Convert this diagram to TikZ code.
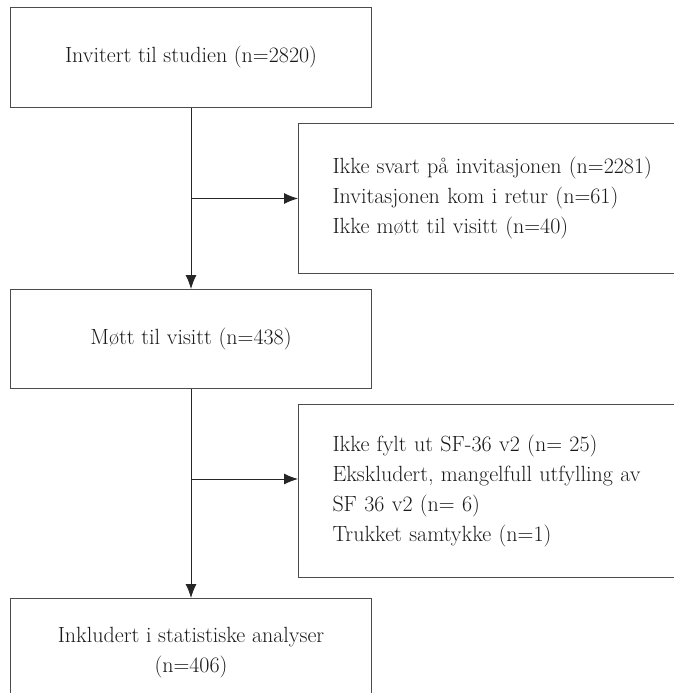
\documentclass[tikz,border=0pt]{standalone}
\usepackage{fontspec}
\usetikzlibrary{arrows.meta}
\begin{document}
\begin{tikzpicture}[x=1pt,y=-1pt,
  box/.style={draw=black!70, line width=1pt, text=black!90, font=\fontsize{22}{30}\selectfont, inner sep=0pt},
  side/.style={box, anchor=north west, text width=345pt, align=left, inner xsep=34pt, inner ysep=0pt},
  main/.style={box, anchor=north west, minimum width=361pt, align=center},
  conn/.style={draw=black!85, line width=0.9pt, -{Latex[length=14pt,width=11pt]}}
]
\clip (0,0) rectangle (674,693);
\useasboundingbox (0,0) rectangle (674,693);
\node[main, minimum height=100pt] (a) at (10,7) {Invitert til studien (n=2820)};
\node[main, minimum height=99pt] (b) at (10,289) {Møtt til visitt (n=438)};
\node[main, minimum height=108pt] (c) at (10,598) {Inkludert i statistiske analyser\\(n=406)};
\node[side, minimum height=150pt] (r1) at (298,123) {Ikke svart på invitasjonen (n=2281)\\Invitasjonen kom i retur (n=61)\\Ikke møtt til visitt (n=40)};
\node[side, minimum height=173pt] (r2) at (298,404) {Ikke fylt ut SF-36 v2 (n= 25)\\Ekskludert, mangelfull utfylling av\\SF 36 v2 (n= 6)\\Trukket samtykke (n=1)};
\draw[conn] (a.south) -- (b.north);
\draw[conn] (b.south) -- (c.north);
\coordinate (j1) at (a.south |- r1.west);
\draw[conn] (j1) -- (r1.west);
\coordinate (j2) at ([yshift=12pt]b.south |- r2.west);
\draw[conn] (j2) -- (j2 -| r2.west);
\end{tikzpicture}
\end{document}
